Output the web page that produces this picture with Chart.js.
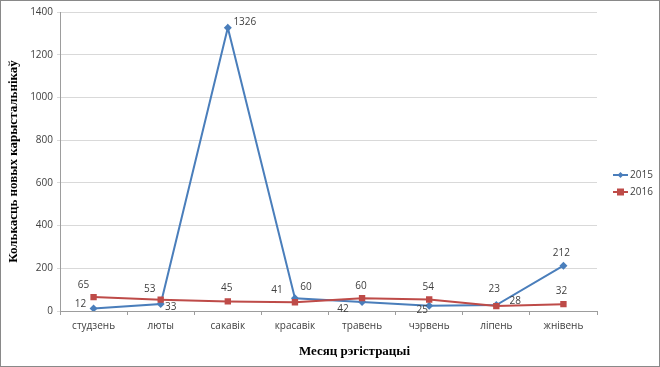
<!DOCTYPE html>
<html>
<head>
<meta charset="utf-8">
<script src="https://cdn.jsdelivr.net/npm/chart.js@4.4.1/dist/chart.umd.min.js"></script>
<style>
  html, body { margin: 0; padding: 0; background: #fff; }
  #box { width: 660px; height: 367px; box-sizing: border-box; border: 1px solid #898989; background: #fff; }
  canvas { display: block; }
</style>
</head>
<body>
<div id="box"><canvas id="chart" width="658" height="365"></canvas></div>
<script>
const months = ['студзень', 'люты', 'сакавік', 'красавік', 'травень', 'чэрвень', 'ліпень', 'жнівень'];
const users2015 = [12, 33, 1326, 60, 42, 25, 28, 212];
const users2016 = [65, 53, 45, 41, 60, 54, 23, 32];
const yTicks = [0, 200, 400, 600, 800, 1000, 1200, 1400];
const seriesNames = ['2015', '2016'];

const BLUE = '#4A7EBB';
const RED = '#BE4B48';
const TXT = '#404040';
const SANS = '"Open Sans", sans-serif';
const SERIF = '"Liberation Serif", "Times New Roman", serif';

// where each value label sits relative to its point (Excel placed them by hand)
const offs2015 = [[-13, -4], [10, 3], [17, -6], [11, -11], [-19, 7], [-7, 4], [19, -4], [-2, -13]];
const offs2016 = [[-10, -12], [-11, -11], [-1, -13], [-18, -12], [-1, -12], [-1, -12], [-2, -17], [-2, -13]];

function marker(ctx, style, x, y, r, color) {
  ctx.fillStyle = color;
  ctx.beginPath();
  if (style === 'rectRot') {
    ctx.moveTo(x, y - r); ctx.lineTo(x + r, y); ctx.lineTo(x, y + r); ctx.lineTo(x - r, y);
  } else {
    ctx.rect(x - r, y - r, r * 2, r * 2);
  }
  ctx.closePath();
  ctx.fill();
}

const extras = {
  id: 'extras',
  afterDatasetsDraw(chart) {
    const ctx = chart.ctx;
    const area = chart.chartArea;
    ctx.save();

    // value labels
    ctx.font = '10px ' + SANS;
    ctx.fillStyle = TXT;
    ctx.textAlign = 'center';
    ctx.textBaseline = 'middle';
    chart.data.datasets.forEach((ds, di) => {
      chart.getDatasetMeta(di).data.forEach((pt, i) => {
        const o = ds.labelOffsets[i];
        ctx.fillText(String(ds.data[i]), pt.x + o[0], pt.y + o[1]);
      });
    });

    // axis titles
    ctx.fillStyle = '#000';
    ctx.font = 'bold 13px ' + SERIF;
    ctx.fillText('Месяц рэгістрацыі', (area.left + area.right) / 2 + 26, 351);
    ctx.save();
    ctx.translate(13, (area.top + area.bottom) / 2);
    ctx.rotate(-Math.PI / 2);
    ctx.fillText('Колькасць новых карыстальнікаў', 0, 0);
    ctx.restore();

    // legend
    ctx.font = '10px ' + SANS;
    ctx.textAlign = 'left';
    chart.data.datasets.forEach((ds, di) => {
      const y = 174 + di * 17;
      ctx.strokeStyle = ds.borderColor;
      ctx.lineWidth = 2;
      ctx.beginPath(); ctx.moveTo(612, y); ctx.lineTo(627, y); ctx.stroke();
      marker(ctx, ds.pointStyle, 619.5, y, di === 0 ? 3 : 3.5, ds.borderColor);
      ctx.fillStyle = TXT;
      ctx.fillText(ds.label, 629, y);
    });
    ctx.restore();
  }
};

new Chart(document.getElementById('chart'), {
  type: 'line',
  data: {
    labels: months,
    datasets: [
      { label: seriesNames[0], data: users2015, borderColor: BLUE, backgroundColor: BLUE, borderWidth: 2,
        pointStyle: 'rectRot', pointRadius: 4, pointBorderWidth: 0, tension: 0, order: 1, labelOffsets: offs2015 },
      { label: seriesNames[1], data: users2016, borderColor: RED, backgroundColor: RED, borderWidth: 2,
        pointStyle: 'rect', pointRadius: 4.5, pointBorderWidth: 0, tension: 0, order: 0, labelOffsets: offs2016 },
    ]
  },
  options: {
    responsive: false,
    animation: false,
    layout: { padding: { top: 11, right: 62, left: 0, bottom: 0 } },
    plugins: { legend: { display: false }, tooltip: { enabled: false } },
    scales: {
      x: {
        offset: true,
        grid: { offset: true, drawOnChartArea: false, drawTicks: true, tickLength: 4, color: '#9d9d9d' },
        border: { color: '#9d9d9d' },
        ticks: { color: TXT, font: { family: SANS, size: 10 }, padding: 5, maxRotation: 0 },
        afterFit: s => { s.height = 55; }
      },
      y: {
        min: 0, max: 1400,
        afterBuildTicks: s => { s.ticks = yTicks.map(v => ({ value: v })); },
        grid: { color: '#d9d9d9', tickLength: 3 },
        border: { color: '#9d9d9d' },
        ticks: { color: TXT, font: { family: SANS, size: 10 }, padding: 4, callback: v => String(v) },
        afterFit: s => { s.width = 59; }
      }
    }
  },
  plugins: [extras]
});
</script>
</body>
</html>
